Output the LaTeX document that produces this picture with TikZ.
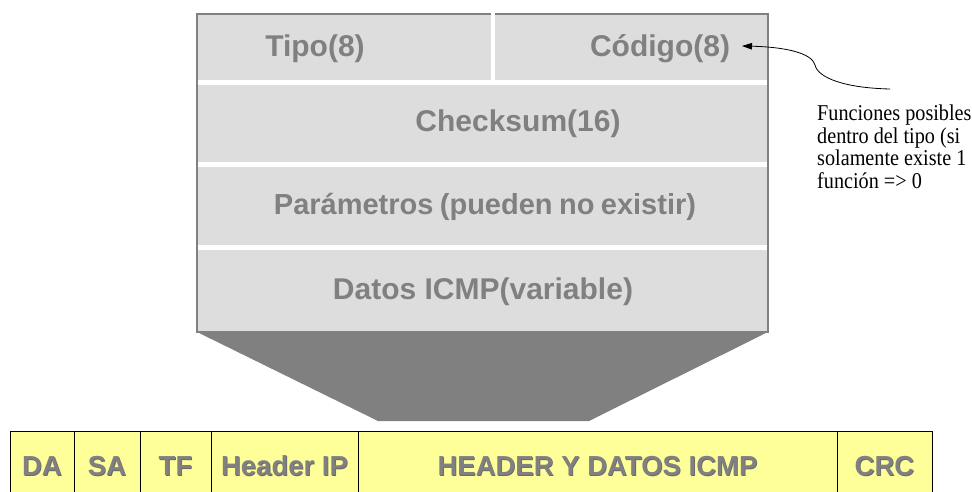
\documentclass[tikz,border=0pt]{standalone}
\usepackage{fontspec}
\usepackage{graphicx}
\setmainfont{Liberation Sans}
\newfontfamily\notefont{Liberation Serif}
\usetikzlibrary{arrows.meta}
\definecolor{boxgray}{HTML}{DDDDDD}
\definecolor{edgegray}{HTML}{808080}
\definecolor{textgray}{HTML}{808080}
\definecolor{shadowgray}{HTML}{6A6A6A}
\definecolor{frameyellow}{HTML}{FFFF99}
\begin{document}
\begin{tikzpicture}[x=1pt,y=-1pt,
  field/.style={font=\fontsize{30}{34}\selectfont\bfseries, text=textgray, inner sep=0pt, anchor=base},
  cellbox/.style={draw=black, line width=1.4pt, fill=frameyellow},
  celltext/.style={font=\fontsize{27.5}{32}\selectfont\bfseries, text=textgray, inner sep=0pt, anchor=base},
  cellshadow/.style={font=\fontsize{27.5}{32}\selectfont\bfseries, text=shadowgray, inner sep=0pt, anchor=base},
  sep/.style={fill=white},
  notetext/.style={font=\notefont\fontsize{20.2}{22.5}\selectfont, inner sep=0pt, anchor=base west}]
\useasboundingbox (0,0) rectangle (972,492);
\clip (0,0) rectangle (972,492);

% ICMP box
\fill[boxgray] (197,14) rectangle (768,332);
\fill[edgegray] (197,332) -- (768,332) -- (589,421) -- (378,421) -- cycle;
\draw[edgegray, line width=2pt] (197,332) -- (197,14) -- (768,14) -- (768,332) -- cycle;
\fill[sep] (198,80) rectangle (767,85);
\fill[sep] (198,162) rectangle (767,167);
\fill[sep] (198,245) rectangle (767,250);
\fill[sep] (491,13) rectangle (495,82);

\node[field] (tipo) at (315,57) {Tipo(8)};
\node[field] (codigo) at (660,57) {Código(8)};
\node[field] (checksum) at (518,132) {Checksum(16)};
\node[field, font=\fontsize{29}{34}\selectfont\bfseries] (param) at (485,214) {\spaceskip=6.4pt\relax Parámetros (pueden no existir)};
\node[field] (datos) at (483,299) {Datos ICMP(variable)};

% Ethernet frame
\node[cellbox, minimum width=64pt, minimum height=70pt, anchor=north west, inner sep=0pt] (cda) at (10,431) {};
\node[cellbox, minimum width=66pt, minimum height=70pt, anchor=north west, inner sep=0pt] (csa) at (74,431) {};
\node[cellbox, minimum width=71pt, minimum height=70pt, anchor=north west, inner sep=0pt] (ctf) at (140,431) {};
\node[cellbox, minimum width=147pt, minimum height=70pt, anchor=north west, inner sep=0pt] (chip) at (211,431) {};
\node[cellbox, minimum width=479pt, minimum height=70pt, anchor=north west, inner sep=0pt] (cicmp) at (358,431) {};
\node[cellbox, minimum width=95pt, minimum height=70pt, anchor=north west, inner sep=0pt] (ccrc) at (837,431) {};

\foreach \n/\x/\t in {sda/42/DA, ssa/107/SA, stf/175.5/TF, ship/284.5/Header IP, sicmp/597.5/HEADER Y DATOS ICMP, scrc/884.5/CRC}{
  \node[cellshadow] (\n) at (\x+0.8,476.6) {\t};
}
\node[celltext] (tda) at (42,475.8) {DA};
\node[celltext] (tsa) at (107,475.8) {SA};
\node[celltext] (ttf) at (175.5,475.8) {TF};
\node[celltext] (thip) at (284.5,475.8) {Header IP};
\node[celltext] (ticmp) at (597.5,475.8) {HEADER Y DATOS ICMP};
\node[celltext] (tcrc) at (884.5,475.8) {CRC};

% note
\node[notetext] (note1) at (817,121) {\scalebox{1}[1.12]{Funciones posibles}};
\node[notetext] (note2) at (817,143.5) {\scalebox{1}[1.12]{dentro del tipo (si}};
\node[notetext] (note3) at (817,166) {\scalebox{1}[1.12]{solamente existe 1}};
\node[notetext] (note4) at (817,188.5) {\scalebox{1}[1.12]{función => 0}};
\coordinate (noteend) at (890,89);
\coordinate (tip) at (742,46);
\draw[line width=0.8pt, -{Triangle[length=10pt,width=6.5pt]}] (noteend) .. controls (845,88) and (818,78) .. (815,65) .. controls (812,53) and (785,47) .. (tip);
\end{tikzpicture}
\end{document}
